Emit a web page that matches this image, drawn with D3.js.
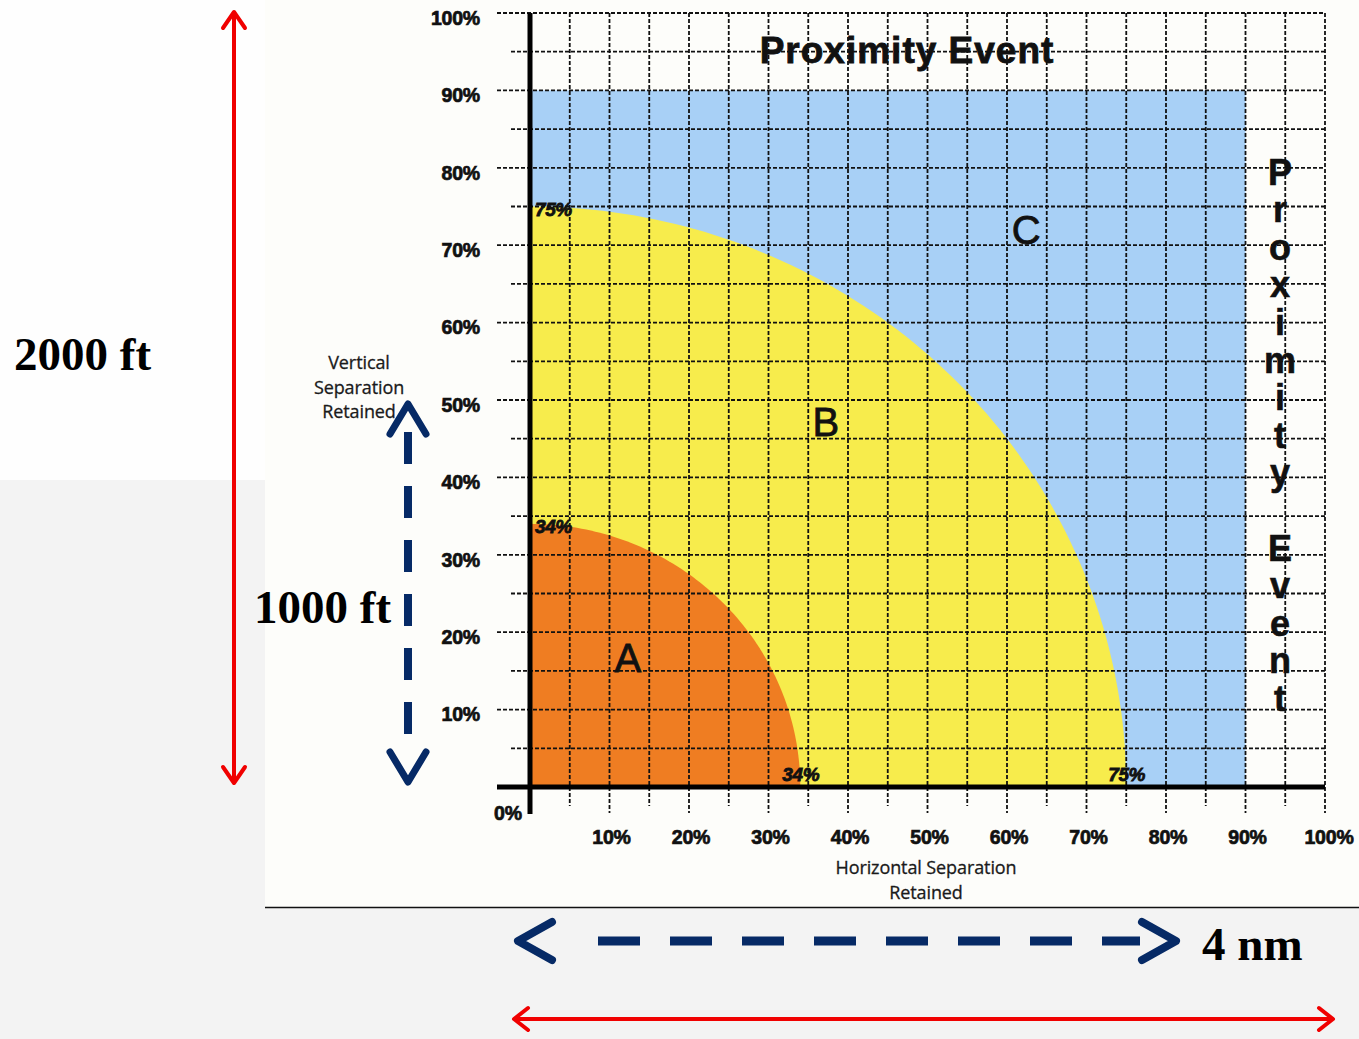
<!DOCTYPE html>
<html><head><meta charset="utf-8">
<script src="https://cdn.jsdelivr.net/npm/d3@7"></script>
<style>html,body{margin:0;padding:0;background:#f6f6f6;}svg{display:block;}</style>
</head><body>
<script>
// ---- data ----
const xTicks = [10,20,30,40,50,60,70,80,90,100];
const yTicks = [0,10,20,30,40,50,60,70,80,90,100];
const gridSteps = d3.range(5, 101, 5);
const zoneNames = ["C","B","A"];
const zoneRadii = [90, 75, 34];          // % separation retained
const zoneLabelPos = [[62.4,72],[37.2,47.2],[12.3,16.7]]; // label positions in % coords
const boundaryLabels = [75, 34];
const title = "Proximity Event";
const xTitle = ["Horizontal Separation","Retained"];
const yTitle = ["Vertical","Separation","Retained"];
const scaleLabels = ["2000 ft","1000 ft","4 nm"];

const W = 1359, H = 1039;
const svg = d3.select("body").append("svg").attr("width", W).attr("height", H);

// background
svg.append("rect").attr("x",0).attr("y",0).attr("width",W).attr("height",H).attr("fill","#f3f3f3");
svg.append("rect").attr("x",0).attr("y",0).attr("width",265).attr("height",480).attr("fill","#fefefe");
svg.append("rect").attr("x",265).attr("y",0).attr("width",W-265).attr("height",907).attr("fill","#fdfdfa");
svg.append("line").attr("x1",265).attr("x2",W).attr("y1",907.5).attr("y2",907.5).attr("stroke","#111").attr("stroke-width",1.5);

const x = d3.scaleLinear().domain([0,100]).range([530,1325]);
const y = d3.scaleLinear().domain([0,100]).range([787,13]);

const colors = ["#a8d0f6", "#f7ec4c", "#ef7d22"];

// zones
const g = svg.append("g");
g.append("rect").attr("x", x(0)).attr("y", y(zoneRadii[0]))
  .attr("width", x(zoneRadii[0]) - x(0)).attr("height", y(0) - y(zoneRadii[0]))
  .attr("fill", colors[0]);
const angles = d3.range(0, 91, 1).map(a => a * Math.PI / 180);
[1,2].forEach(i => {
  const r = zoneRadii[i];
  const pts = [[0,0]].concat(angles.map(a => [r*Math.cos(a), r*Math.sin(a)]));
  const line = d3.line().x(d => x(d[0])).y(d => y(d[1]));
  g.append("path").attr("d", line(pts) + "Z").attr("fill", colors[i]);
});

// grid
const grid = svg.append("g").attr("stroke","#111").attr("stroke-width",1.8).attr("stroke-dasharray","4,2").attr("fill","none");
gridSteps.forEach(v => {
  const major = v % 10 === 0;
  grid.append("line").attr("x1", x(v)).attr("x2", x(v)).attr("y1", y(100)).attr("y2", major ? 813 : 806);
  grid.append("line").attr("y1", y(v)).attr("y2", y(v)).attr("x1", major ? 497 : 511).attr("x2", x(100));
});

// axes
svg.append("line").attr("x1", 497).attr("x2", x(100)).attr("y1", y(0)).attr("y2", y(0)).attr("stroke","#000").attr("stroke-width",5);
svg.append("line").attr("x1", x(0)).attr("x2", x(0)).attr("y1", y(100)).attr("y2", 814).attr("stroke","#000").attr("stroke-width",5);

// tick labels
const tickFont = "'Liberation Sans', Arial, sans-serif";
function heavy(sel, sw) {
  return sel.attr("font-family", tickFont).attr("font-weight","bold")
    .attr("fill","#111").attr("stroke","#111").attr("stroke-width", sw).attr("paint-order","stroke");
}
heavy(svg.append("g").selectAll("text").data(yTicks.filter(d=>d>0)).join("text")
  .attr("x", 480).attr("y", d => y(d) + 5).attr("dy","0.35em").attr("text-anchor","end")
  .attr("font-size",19.5).attr("letter-spacing","-0.2"), 0.7).text(d => d + "%");
heavy(svg.append("text").attr("x", 508).attr("y", 813).attr("dy","0.35em").attr("text-anchor","middle")
  .attr("font-size",19.5).attr("letter-spacing","-0.2"), 0.7).text(yTicks[0] + "%");
heavy(svg.append("g").selectAll("text").data(xTicks).join("text")
  .attr("x", d => x(d) + (d===100 ? 4 : 2)).attr("y", 837).attr("dy","0.35em").attr("text-anchor","middle")
  .attr("font-size",19.5).attr("letter-spacing","-0.2"), 0.7).text(d => d + "%");

// boundary labels
const bl = heavy(svg.append("g").attr("font-style","italic").attr("font-size",19).attr("letter-spacing","-0.4"), 0.8);
boundaryLabels.forEach(v => {
  bl.append("text").attr("x", x(0)+5).attr("y", y(v)+9).text(v + "%");
  bl.append("text").attr("x", x(v)-18).attr("y", y(0)-6).text(v + "%");
});

// zone letters
svg.append("g").selectAll("text").data(zoneNames).join("text")
  .attr("x", (d,i) => x(zoneLabelPos[i][0])).attr("y", (d,i) => y(zoneLabelPos[i][1]))
  .attr("dy","0.35em").attr("text-anchor","middle")
  .attr("font-family", tickFont).attr("font-size",40).attr("fill","#111")
  .attr("stroke","#111").attr("stroke-width",0.8).text(d => d);

// title
heavy(svg.append("text").attr("x", 907).attr("y", 50).attr("dy","0.35em").attr("text-anchor","middle")
  .attr("font-size",37).attr("letter-spacing","1"), 0.8).text(title);

// vertical stacked title
heavy(svg.append("g").selectAll("text").data(title.split("")).join("text")
  .attr("x", 1280).attr("y", (d,i) => 172 + i * 37.6).attr("dy","0.35em").attr("text-anchor","middle")
  .attr("font-size",36), 0.6).text(d => d);

// axis titles
const tFont = "'Open Sans', 'Noto Sans', sans-serif";
svg.append("g").selectAll("text").data(xTitle).join("text")
  .attr("x", 926).attr("y", (d,i) => 868 + i*25).attr("dy","0.35em").attr("text-anchor","middle")
  .attr("font-family", tFont).attr("font-size",18).attr("letter-spacing","-0.1").attr("fill","#1a1a1a")
  .attr("stroke","#1a1a1a").attr("stroke-width",0.3).text(d => d);
svg.append("g").selectAll("text").data(yTitle).join("text")
  .attr("x", 359).attr("y", (d,i) => 363 + i*24.5).attr("dy","0.35em").attr("text-anchor","middle")
  .attr("font-family", tFont).attr("font-size",18).attr("letter-spacing","-0.1").attr("fill","#1a1a1a")
  .attr("stroke","#1a1a1a").attr("stroke-width",0.3).text(d => d);

// arrows
const red = "#f00000";
function chevron(sel, pts, color, w) {
  sel.append("polyline").attr("points", pts.map(p => p.join(",")).join(" "))
    .attr("fill","none").attr("stroke",color).attr("stroke-width",w)
    .attr("stroke-linecap","round").attr("stroke-linejoin","round");
}
const arr = svg.append("g");
arr.append("line").attr("x1",234).attr("x2",234).attr("y1",12).attr("y2",783).attr("stroke",red).attr("stroke-width",4);
chevron(arr, [[223,28],[234,12],[245,28]], red, 4);
chevron(arr, [[223,767],[234,783],[245,767]], red, 4);
arr.append("line").attr("x1",514).attr("x2",1333).attr("y1",1019).attr("y2",1019).attr("stroke",red).attr("stroke-width",4);
chevron(arr, [[528,1008],[514,1019],[528,1030]], red, 4);
chevron(arr, [[1319,1008],[1333,1019],[1319,1030]], red, 4);

const navy = "#062a66";
arr.append("line").attr("x1",408).attr("x2",408).attr("y1",432).attr("y2",750)
  .attr("stroke",navy).attr("stroke-width",8).attr("stroke-dasharray","32,22");
chevron(arr, [[390,434],[408,404],[426,434]], navy, 7);
chevron(arr, [[390,752],[408,782],[426,752]], navy, 7);
arr.append("line").attr("x1",598).attr("x2",1140).attr("y1",941).attr("y2",941)
  .attr("stroke",navy).attr("stroke-width",9).attr("stroke-dasharray","42,30");
chevron(arr, [[552,922],[518,941],[552,960]], navy, 8);
chevron(arr, [[1142,922],[1176,941],[1142,960]], navy, 8);

// scale labels
const sFont = "'Liberation Serif', 'Times New Roman', serif";
svg.append("text").attr("x",14).attr("y",370).attr("font-family",sFont).attr("font-weight","bold").attr("font-size",47).attr("fill","#000").text(scaleLabels[0]);
svg.append("text").attr("x",254).attr("y",623).attr("font-family",sFont).attr("font-weight","bold").attr("font-size",47).attr("fill","#000").text(scaleLabels[1]);
svg.append("text").attr("x",1202).attr("y",960).attr("font-family",sFont).attr("font-weight","bold").attr("font-size",47).attr("fill","#000").text(scaleLabels[2]);
</script>
</body></html>
